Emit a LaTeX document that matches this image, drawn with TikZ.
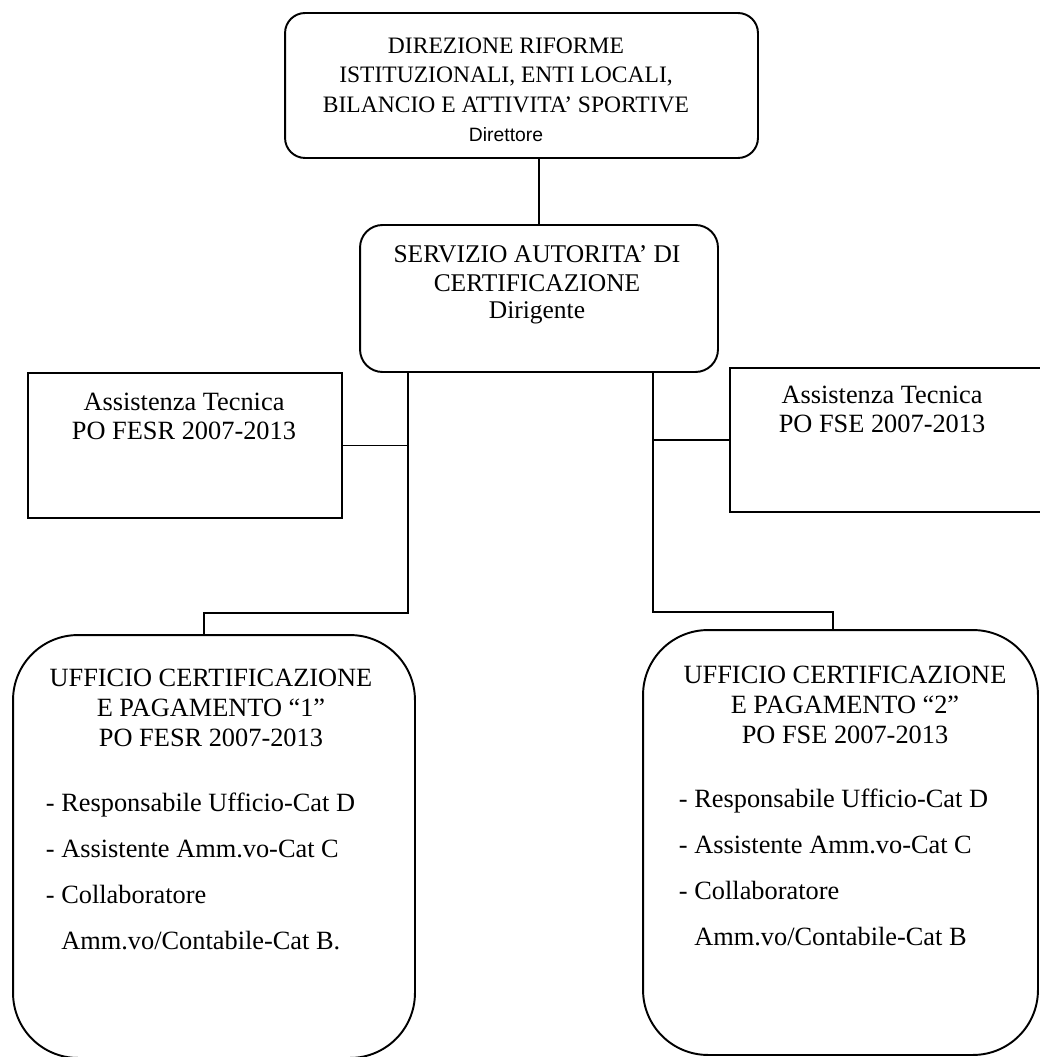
\documentclass[tikz,border=0pt]{standalone}
\usepackage{fontspec}
\setmainfont{Liberation Serif}
\setsansfont{Liberation Sans}
\begin{document}
\begin{tikzpicture}[x=0.02cm, y=-0.02cm, line width=1.1pt,
  box/.style={draw, inner sep=0pt, outer sep=0pt},
  rbox/.style={box, rounded corners=#1},
  txt/.style={inner sep=0pt, align=center}]
\useasboundingbox (0,0) rectangle (1039,1057);
% boxes
\node[rbox=0.4cm, minimum width=9.46cm, minimum height=2.9cm] (dir) at (521.5,85.5) {};
\node[rbox=0.45cm, minimum width=7.16cm, minimum height=2.94cm] (serv) at (539,298.5) {};
\node[box, minimum width=6.28cm, minimum height=2.9cm] (atfesr) at (185,445.5) {};
\node[box, minimum width=6.4cm, minimum height=2.88cm] (atfse) at (890,440) {};
\node[rbox=1.3cm, minimum width=8.04cm, minimum height=8.46cm] (uff1) at (214,846.5) {};
\node[rbox=1.3cm, minimum width=7.9cm, minimum height=8.5cm] (uff2) at (840.5,842.5) {};
% texts
\node[txt, anchor=north, font=\fontsize{13.4}{16.7}\selectfont] (dirtxt) at (506,37)
  {DIREZIONE RIFORME\\ISTITUZIONALI, ENTI LOCALI,\\BILANCIO E ATTIVITA' SPORTIVE\\{\sffamily\fontsize{11}{16.7}\selectfont Direttore}};
\node[txt, anchor=north, font=\fontsize{14.5}{16.2}\selectfont] (servtxt) at (537,245)
  {SERVIZIO AUTORITA' DI\\CERTIFICAZIONE\\[-0.03cm]Dirigente};
\node[txt, anchor=north, font=\fontsize{15}{16.5}\selectfont] (atfesrtxt) at (184,392)
  {Assistenza Tecnica\\PO FESR 2007-2013};
\node[txt, anchor=north, font=\fontsize{15}{16.5}\selectfont] (atfsetxt) at (882,385)
  {Assistenza Tecnica\\PO FSE 2007-2013};
\node[txt, anchor=north, font=\fontsize{15}{17}\selectfont] (uff1head) at (211,668)
  {UFFICIO CERTIFICAZIONE\\E PAGAMENTO “1”\\PO FESR 2007-2013};
\node[txt, anchor=north west, align=left, font=\fontsize{15}{26.1}\selectfont] (uff1list) at (45,792)
  {- Responsabile Ufficio-Cat D\\- Assistente Amm.vo-Cat C\\- Collaboratore\\\phantom{- }Amm.vo/Contabile-Cat B.};
\node[txt, anchor=north, font=\fontsize{15}{17}\selectfont] (uff2head) at (845,665)
  {UFFICIO CERTIFICAZIONE\\E PAGAMENTO “2”\\PO FSE 2007-2013};
\node[txt, anchor=north west, align=left, font=\fontsize{15}{26.1}\selectfont] (uff2list) at (678,788)
  {- Responsabile Ufficio-Cat D\\- Assistente Amm.vo-Cat C\\- Collaboratore\\\phantom{- }Amm.vo/Contabile-Cat B};
% connectors
\coordinate (lbus) at (408,613);
\coordinate (rbus) at (653,612);
\draw (dir.south -| serv.north) -- (serv.north);
\draw (serv.south -| lbus) -- (lbus) -| ([xshift=-0.2cm]uff1.north);
\draw (serv.south -| rbus) -- (rbus) -| ([xshift=-0.15cm]uff2.north);
\draw (atfesr.east) -- (atfesr.east -| lbus);
\draw (atfse.west) -- (atfse.west -| rbus);
\end{tikzpicture}
\end{document}
